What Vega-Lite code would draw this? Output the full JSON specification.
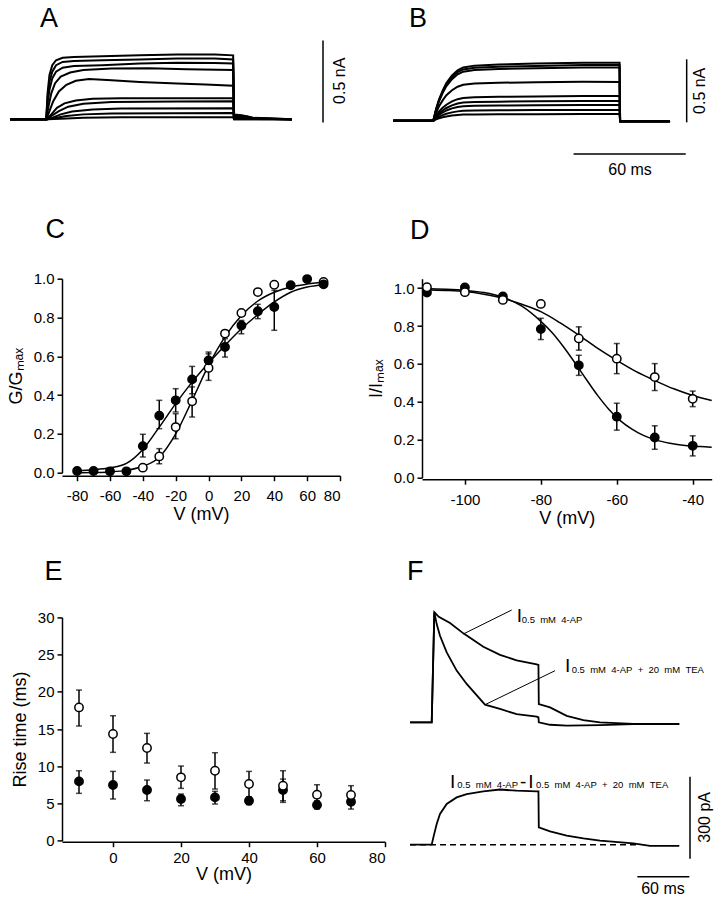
{
  "$schema": "https://vega.github.io/schema/vega-lite/v6.json",
  "background": "white",
  "padding": {"left": 5, "top": 4, "right": 0, "bottom": 0},
  "columns": 2,
  "align": "each",
  "bounds": "flush",
  "spacing": {"row": 139.7, "column": 37},
  "config": {
    "view": {"stroke": null},
    "font": "Liberation Sans",
    "axis": {"domainColor": "black", "domainWidth": 1.5, "tickColor": "black", "tickWidth": 1.5, "tickSize": 5, "labelColor": "black", "labelFont": "Liberation Sans", "labelFontSize": 15, "titleFont": "Liberation Sans", "titleFontSize": 18, "titleFontWeight": "normal", "titleColor": "black", "grid": false}
  },
  "datasets": {
    "aTr": [
      {"k":"a1","t":1,"I":0},{"k":"a1","t":20.3,"I":0},{"k":"a1","t":21,"I":0.16},{"k":"a1","t":22,"I":0.27},{"k":"a1","t":23.5,"I":0.33},{"k":"a1","t":25.5,"I":0.36},{"k":"a1","t":29,"I":0.375},{"k":"a1","t":35,"I":0.38},{"k":"a1","t":50,"I":0.385},{"k":"a1","t":70,"I":0.39},{"k":"a1","t":90,"I":0.395},{"k":"a1","t":110,"I":0.395},{"k":"a1","t":119.7,"I":0.39},{"k":"a1","t":120.2,"I":0.03},{"k":"a1","t":124,"I":0.025},{"k":"a1","t":128,"I":0.015},{"k":"a1","t":132,"I":0.003},{"k":"a1","t":151,"I":0},
      {"k":"a2","t":1,"I":0},{"k":"a2","t":20.3,"I":0},{"k":"a2","t":21,"I":0.13},{"k":"a2","t":22,"I":0.23},{"k":"a2","t":23.5,"I":0.29},{"k":"a2","t":25.5,"I":0.33},{"k":"a2","t":29,"I":0.35},{"k":"a2","t":35,"I":0.355},{"k":"a2","t":50,"I":0.36},{"k":"a2","t":70,"I":0.365},{"k":"a2","t":90,"I":0.37},{"k":"a2","t":110,"I":0.37},{"k":"a2","t":119.7,"I":0.365},{"k":"a2","t":120.2,"I":0.025},{"k":"a2","t":126,"I":0.02},{"k":"a2","t":132,"I":0.003},{"k":"a2","t":151,"I":0},
      {"k":"a3","t":1,"I":0},{"k":"a3","t":20.3,"I":0},{"k":"a3","t":21,"I":0.1},{"k":"a3","t":22,"I":0.18},{"k":"a3","t":23.5,"I":0.25},{"k":"a3","t":25.5,"I":0.29},{"k":"a3","t":29,"I":0.315},{"k":"a3","t":35,"I":0.325},{"k":"a3","t":50,"I":0.33},{"k":"a3","t":70,"I":0.34},{"k":"a3","t":90,"I":0.345},{"k":"a3","t":110,"I":0.343},{"k":"a3","t":119.7,"I":0.34},{"k":"a3","t":120.2,"I":0.02},{"k":"a3","t":128,"I":0.01},{"k":"a3","t":151,"I":0},
      {"k":"a4","t":1,"I":0},{"k":"a4","t":20.3,"I":0},{"k":"a4","t":21.5,"I":0.08},{"k":"a4","t":23,"I":0.16},{"k":"a4","t":25,"I":0.22},{"k":"a4","t":28,"I":0.26},{"k":"a4","t":33,"I":0.285},{"k":"a4","t":40,"I":0.3},{"k":"a4","t":55,"I":0.31},{"k":"a4","t":75,"I":0.312},{"k":"a4","t":95,"I":0.305},{"k":"a4","t":119.7,"I":0.3},{"k":"a4","t":120.2,"I":0.015},{"k":"a4","t":128,"I":0.005},{"k":"a4","t":151,"I":0},
      {"k":"a5","t":1,"I":0},{"k":"a5","t":20.3,"I":0},{"k":"a5","t":22,"I":0.05},{"k":"a5","t":24,"I":0.11},{"k":"a5","t":27,"I":0.17},{"k":"a5","t":31,"I":0.21},{"k":"a5","t":36,"I":0.235},{"k":"a5","t":43,"I":0.245},{"k":"a5","t":55,"I":0.238},{"k":"a5","t":70,"I":0.228},{"k":"a5","t":90,"I":0.218},{"k":"a5","t":105,"I":0.212},{"k":"a5","t":119.7,"I":0.205},{"k":"a5","t":120.2,"I":0.012},{"k":"a5","t":151,"I":0},
      {"k":"a6","t":1,"I":0},{"k":"a6","t":20.5,"I":0},{"k":"a6","t":23,"I":0.03},{"k":"a6","t":26,"I":0.07},{"k":"a6","t":30,"I":0.097},{"k":"a6","t":36,"I":0.115},{"k":"a6","t":45,"I":0.125},{"k":"a6","t":60,"I":0.128},{"k":"a6","t":90,"I":0.128},{"k":"a6","t":119.7,"I":0.128},{"k":"a6","t":120.2,"I":0.005},{"k":"a6","t":151,"I":0},
      {"k":"a7","t":1,"I":0},{"k":"a7","t":20.5,"I":0},{"k":"a7","t":23,"I":0.02},{"k":"a7","t":27,"I":0.05},{"k":"a7","t":32,"I":0.077},{"k":"a7","t":40,"I":0.095},{"k":"a7","t":55,"I":0.105},{"k":"a7","t":90,"I":0.108},{"k":"a7","t":119.7,"I":0.11},{"k":"a7","t":120.2,"I":0.004},{"k":"a7","t":151,"I":0},
      {"k":"a8","t":1,"I":0},{"k":"a8","t":21,"I":0},{"k":"a8","t":24,"I":0.012},{"k":"a8","t":28,"I":0.03},{"k":"a8","t":34,"I":0.048},{"k":"a8","t":45,"I":0.06},{"k":"a8","t":60,"I":0.066},{"k":"a8","t":119.7,"I":0.068},{"k":"a8","t":120.2,"I":0.002},{"k":"a8","t":151,"I":0},
      {"k":"a9","t":1,"I":0},{"k":"a9","t":21,"I":0},{"k":"a9","t":25,"I":0.008},{"k":"a9","t":31,"I":0.02},{"k":"a9","t":40,"I":0.03},{"k":"a9","t":55,"I":0.036},{"k":"a9","t":119.7,"I":0.038},{"k":"a9","t":120.2,"I":0},{"k":"a9","t":151,"I":0},
      {"k":"a10","t":1,"I":0},{"k":"a10","t":21,"I":0},{"k":"a10","t":28,"I":0.004},{"k":"a10","t":40,"I":0.009},{"k":"a10","t":60,"I":0.012},{"k":"a10","t":119.7,"I":0.013},{"k":"a10","t":120.2,"I":0},{"k":"a10","t":151,"I":0}
    ],
    "bTr": [
      {"k":"b1","t":-1.4,"I":0},{"k":"b1","t":20,"I":0},{"k":"b1","t":21.5,"I":0.092},{"k":"b1","t":23,"I":0.166},{"k":"b1","t":25,"I":0.239},{"k":"b1","t":27,"I":0.299},{"k":"b1","t":30,"I":0.359},{"k":"b1","t":33,"I":0.4},{"k":"b1","t":36,"I":0.423},{"k":"b1","t":42,"I":0.437},{"k":"b1","t":55,"I":0.446},{"k":"b1","t":75,"I":0.453},{"k":"b1","t":100,"I":0.46},{"k":"b1","t":119.6,"I":0.46},{"k":"b1","t":119.9,"I":-0.005},{"k":"b1","t":146.6,"I":-0.005},
      {"k":"b2","t":-1.4,"I":0},{"k":"b2","t":20,"I":0},{"k":"b2","t":21.5,"I":0.088},{"k":"b2","t":23,"I":0.159},{"k":"b2","t":25,"I":0.23},{"k":"b2","t":27,"I":0.287},{"k":"b2","t":30,"I":0.345},{"k":"b2","t":33,"I":0.385},{"k":"b2","t":36,"I":0.407},{"k":"b2","t":42,"I":0.42},{"k":"b2","t":55,"I":0.429},{"k":"b2","t":75,"I":0.435},{"k":"b2","t":100,"I":0.442},{"k":"b2","t":119.6,"I":0.442},{"k":"b2","t":119.9,"I":-0.005},{"k":"b2","t":146.6,"I":-0.005},
      {"k":"b3","t":-1.4,"I":0},{"k":"b3","t":20,"I":0},{"k":"b3","t":21.5,"I":0.085},{"k":"b3","t":23,"I":0.152},{"k":"b3","t":25,"I":0.22},{"k":"b3","t":27,"I":0.275},{"k":"b3","t":30,"I":0.33},{"k":"b3","t":33,"I":0.368},{"k":"b3","t":36,"I":0.389},{"k":"b3","t":42,"I":0.402},{"k":"b3","t":55,"I":0.41},{"k":"b3","t":75,"I":0.417},{"k":"b3","t":100,"I":0.423},{"k":"b3","t":119.6,"I":0.423},{"k":"b3","t":119.9,"I":-0.005},{"k":"b3","t":146.6,"I":-0.005},
      {"k":"b4","t":-1.4,"I":0},{"k":"b4","t":20,"I":0},{"k":"b4","t":21.5,"I":0.062},{"k":"b4","t":23,"I":0.112},{"k":"b4","t":25,"I":0.161},{"k":"b4","t":27,"I":0.202},{"k":"b4","t":30,"I":0.242},{"k":"b4","t":33,"I":0.27},{"k":"b4","t":36,"I":0.285},{"k":"b4","t":42,"I":0.295},{"k":"b4","t":55,"I":0.301},{"k":"b4","t":75,"I":0.305},{"k":"b4","t":100,"I":0.31},{"k":"b4","t":119.6,"I":0.308},{"k":"b4","t":119.9,"I":-0.005},{"k":"b4","t":146.6,"I":-0.005},
      {"k":"b5","t":-1.4,"I":0},{"k":"b5","t":20,"I":0},{"k":"b5","t":21.5,"I":0.039},{"k":"b5","t":23,"I":0.071},{"k":"b5","t":25,"I":0.102},{"k":"b5","t":27,"I":0.127},{"k":"b5","t":30,"I":0.153},{"k":"b5","t":33,"I":0.171},{"k":"b5","t":36,"I":0.18},{"k":"b5","t":42,"I":0.186},{"k":"b5","t":55,"I":0.19},{"k":"b5","t":75,"I":0.193},{"k":"b5","t":100,"I":0.196},{"k":"b5","t":119.6,"I":0.196},{"k":"b5","t":119.9,"I":-0.005},{"k":"b5","t":146.6,"I":-0.005},
      {"k":"b6","t":-1.4,"I":0},{"k":"b6","t":20,"I":0},{"k":"b6","t":21.5,"I":0.031},{"k":"b6","t":23,"I":0.056},{"k":"b6","t":25,"I":0.081},{"k":"b6","t":27,"I":0.101},{"k":"b6","t":30,"I":0.122},{"k":"b6","t":33,"I":0.136},{"k":"b6","t":36,"I":0.144},{"k":"b6","t":42,"I":0.148},{"k":"b6","t":55,"I":0.151},{"k":"b6","t":75,"I":0.154},{"k":"b6","t":100,"I":0.156},{"k":"b6","t":119.6,"I":0.156},{"k":"b6","t":119.9,"I":-0.005},{"k":"b6","t":146.6,"I":-0.005},
      {"k":"b7","t":-1.4,"I":0},{"k":"b7","t":20,"I":0},{"k":"b7","t":21.5,"I":0.025},{"k":"b7","t":23,"I":0.045},{"k":"b7","t":25,"I":0.065},{"k":"b7","t":27,"I":0.081},{"k":"b7","t":30,"I":0.098},{"k":"b7","t":33,"I":0.109},{"k":"b7","t":36,"I":0.115},{"k":"b7","t":42,"I":0.119},{"k":"b7","t":55,"I":0.121},{"k":"b7","t":75,"I":0.123},{"k":"b7","t":100,"I":0.125},{"k":"b7","t":119.6,"I":0.125},{"k":"b7","t":119.9,"I":-0.005},{"k":"b7","t":146.6,"I":-0.005},
      {"k":"b8","t":-1.4,"I":0},{"k":"b8","t":20,"I":0},{"k":"b8","t":21.5,"I":0.017},{"k":"b8","t":23,"I":0.031},{"k":"b8","t":25,"I":0.044},{"k":"b8","t":27,"I":0.055},{"k":"b8","t":30,"I":0.066},{"k":"b8","t":33,"I":0.074},{"k":"b8","t":36,"I":0.078},{"k":"b8","t":42,"I":0.081},{"k":"b8","t":55,"I":0.082},{"k":"b8","t":75,"I":0.084},{"k":"b8","t":100,"I":0.085},{"k":"b8","t":119.6,"I":0.085},{"k":"b8","t":119.9,"I":-0.005},{"k":"b8","t":146.6,"I":-0.005},
      {"k":"b9","t":-1.4,"I":0},{"k":"b9","t":20,"I":0},{"k":"b9","t":21.5,"I":0.011},{"k":"b9","t":23,"I":0.019},{"k":"b9","t":25,"I":0.028},{"k":"b9","t":27,"I":0.034},{"k":"b9","t":30,"I":0.041},{"k":"b9","t":33,"I":0.046},{"k":"b9","t":36,"I":0.049},{"k":"b9","t":42,"I":0.05},{"k":"b9","t":55,"I":0.051},{"k":"b9","t":75,"I":0.052},{"k":"b9","t":100,"I":0.053},{"k":"b9","t":119.6,"I":0.053},{"k":"b9","t":119.9,"I":-0.005},{"k":"b9","t":146.6,"I":-0.005}
    ],
    "cCurve": [
      {"s":"f","V":-80,"G":0.01},{"s":"f","V":-70,"G":0.015},{"s":"f","V":-60,"G":0.025},{"s":"f","V":-50,"G":0.048},{"s":"f","V":-40,"G":0.12},{"s":"f","V":-30,"G":0.235},{"s":"f","V":-20,"G":0.356},{"s":"f","V":-10,"G":0.467},{"s":"f","V":0,"G":0.565},{"s":"f","V":10,"G":0.656},{"s":"f","V":20,"G":0.742},{"s":"f","V":30,"G":0.815},{"s":"f","V":40,"G":0.88},{"s":"f","V":50,"G":0.93},{"s":"f","V":60,"G":0.957},{"s":"f","V":72,"G":0.972},
      {"s":"o","V":-80,"G":0.0},{"s":"o","V":-70,"G":0.001},{"s":"o","V":-60,"G":0.004},{"s":"o","V":-50,"G":0.012},{"s":"o","V":-40,"G":0.033},{"s":"o","V":-30,"G":0.08},{"s":"o","V":-20,"G":0.2},{"s":"o","V":-10,"G":0.373},{"s":"o","V":0,"G":0.553},{"s":"o","V":10,"G":0.7},{"s":"o","V":20,"G":0.81},{"s":"o","V":30,"G":0.885},{"s":"o","V":40,"G":0.93},{"s":"o","V":50,"G":0.957},{"s":"o","V":60,"G":0.972},{"s":"o","V":72,"G":0.984}
    ],
    "cPts": [
      {"s":"o","V":-40,"G":0.026},{"s":"o","V":-30,"G":0.084},{"s":"o","V":-20,"G":0.235},{"s":"o","V":-10,"G":0.368},{"s":"o","V":0,"G":0.54},{"s":"o","V":10,"G":0.717},{"s":"o","V":20,"G":0.823},{"s":"o","V":30,"G":0.931},{"s":"o","V":40,"G":0.969},{"s":"o","V":70,"G":0.983},
      {"s":"f","V":-80,"G":0.009},{"s":"f","V":-70,"G":0.009},{"s":"f","V":-60,"G":0.007},{"s":"f","V":-50,"G":0.007},{"s":"f","V":-40,"G":0.137},{"s":"f","V":-30,"G":0.294},{"s":"f","V":-20,"G":0.373},{"s":"f","V":-10,"G":0.481},{"s":"f","V":0,"G":0.579},{"s":"f","V":10,"G":0.648},{"s":"f","V":20,"G":0.759},{"s":"f","V":30,"G":0.832},{"s":"f","V":40,"G":0.854},{"s":"f","V":50,"G":0.966},{"s":"f","V":60,"G":0.998},{"s":"f","V":70,"G":0.971}
    ],
    "cErr": [
      {"V":-40,"lo":0.081,"hi":0.198},{"V":-30,"lo":0.227,"hi":0.373},{"V":-20,"lo":0.313,"hi":0.433},{"V":-10,"lo":0.407,"hi":0.548},{"V":0,"lo":0.536,"hi":0.622},{"V":10,"lo":0.596,"hi":0.691},{"V":20,"lo":0.716,"hi":0.785},{"V":30,"lo":0.794,"hi":0.868},{"V":40,"lo":0.734,"hi":0.94},
      {"V":-30,"lo":0.046,"hi":0.124},{"V":-20,"lo":0.175,"hi":0.304},{"V":-10,"lo":0.287,"hi":0.442},{"V":0,"lo":0.476,"hi":0.613}
    ],
    "dCurve": [
      {"s":"f","V":-111,"G":0.998},{"s":"f","V":-105,"G":0.994},{"s":"f","V":-100,"G":0.988},{"s":"f","V":-95,"G":0.977},{"s":"f","V":-90,"G":0.952},{"s":"f","V":-85,"G":0.905},{"s":"f","V":-80,"G":0.825},{"s":"f","V":-77,"G":0.765},{"s":"f","V":-74,"G":0.69},{"s":"f","V":-71,"G":0.606},{"s":"f","V":-68,"G":0.518},{"s":"f","V":-65,"G":0.433},{"s":"f","V":-62,"G":0.359},{"s":"f","V":-59,"G":0.3},{"s":"f","V":-56,"G":0.256},{"s":"f","V":-53,"G":0.223},{"s":"f","V":-50,"G":0.201},{"s":"f","V":-46,"G":0.182},{"s":"f","V":-42,"G":0.17},{"s":"f","V":-38,"G":0.164},{"s":"f","V":-35,"G":0.161},
      {"s":"o","V":-111,"G":0.992},{"s":"o","V":-105,"G":0.988},{"s":"o","V":-100,"G":0.982},{"s":"o","V":-95,"G":0.968},{"s":"o","V":-90,"G":0.947},{"s":"o","V":-85,"G":0.915},{"s":"o","V":-80,"G":0.876},{"s":"o","V":-75,"G":0.818},{"s":"o","V":-70,"G":0.752},{"s":"o","V":-65,"G":0.682},{"s":"o","V":-60,"G":0.619},{"s":"o","V":-55,"G":0.561},{"s":"o","V":-50,"G":0.513},{"s":"o","V":-45,"G":0.469},{"s":"o","V":-40,"G":0.434},{"s":"o","V":-35,"G":0.407}
    ],
    "dPts": [
      {"s":"f","V":-110,"G":0.977},{"s":"f","V":-100,"G":1.004},{"s":"f","V":-90,"G":0.956},{"s":"f","V":-80,"G":0.784},{"s":"f","V":-70,"G":0.593},{"s":"f","V":-60,"G":0.322},{"s":"f","V":-50,"G":0.212},{"s":"f","V":-40,"G":0.168},
      {"s":"o","V":-110,"G":1.005},{"s":"o","V":-100,"G":0.979},{"s":"o","V":-90,"G":0.938},{"s":"o","V":-80,"G":0.917},{"s":"o","V":-70,"G":0.735},{"s":"o","V":-60,"G":0.628},{"s":"o","V":-50,"G":0.531},{"s":"o","V":-40,"G":0.416}
    ],
    "dErr": [
      {"V":-80,"lo":0.729,"hi":0.841},{"V":-70,"lo":0.54,"hi":0.646},{"V":-60,"lo":0.251,"hi":0.393},{"V":-50,"lo":0.15,"hi":0.274},{"V":-40,"lo":0.115,"hi":0.221},
      {"V":-70,"lo":0.673,"hi":0.796},{"V":-60,"lo":0.549,"hi":0.708},{"V":-50,"lo":0.46,"hi":0.602},{"V":-40,"lo":0.375,"hi":0.457}
    ],
    "ePts": [
      {"s":"f","V":-10,"R":7.97},{"s":"f","V":0,"R":7.48},{"s":"f","V":10,"R":6.81},{"s":"f","V":20,"R":5.6},{"s":"f","V":30,"R":5.82},{"s":"f","V":40,"R":5.37},{"s":"f","V":50,"R":6.81},{"s":"f","V":60,"R":4.79},{"s":"f","V":70,"R":5.24},
      {"s":"o","V":-10,"R":17.91},{"s":"o","V":0,"R":14.33},{"s":"o","V":10,"R":12.45},{"s":"o","V":20,"R":8.51},{"s":"o","V":30,"R":9.4},{"s":"o","V":40,"R":7.61},{"s":"o","V":50,"R":7.39},{"s":"o","V":60,"R":6.18},{"s":"o","V":70,"R":6.14}
    ],
    "eErr": [
      {"V":-10,"lo":6.36,"hi":9.4},{"V":0,"lo":5.6,"hi":9.31},{"V":10,"lo":5.37,"hi":8.15},{"V":20,"lo":4.7,"hi":6.27},{"V":30,"lo":4.93,"hi":6.63},{"V":40,"lo":4.84,"hi":5.73},{"V":50,"lo":5.15,"hi":8.28},{"V":60,"lo":4.25,"hi":5.37},{"V":70,"lo":4.25,"hi":5.82},
      {"V":-10,"lo":15.41,"hi":20.24},{"V":0,"lo":11.87,"hi":16.79},{"V":10,"lo":10.43,"hi":14.42},{"V":20,"lo":7.03,"hi":10.03},{"V":30,"lo":6.94,"hi":11.82},{"V":40,"lo":5.91,"hi":9.31},{"V":50,"lo":5.37,"hi":9.4},{"V":60,"lo":4.93,"hi":7.52},{"V":70,"lo":5.02,"hi":7.39}
    ],
    "fTr": [
      {"k":"ap","t":0,"I":450},{"k":"ap","t":24.9,"I":450},{"k":"ap","t":27.9,"I":855},{"k":"ap","t":33,"I":838},{"k":"ap","t":45.9,"I":815},{"k":"ap","t":61.2,"I":777},{"k":"ap","t":84.1,"I":728},{"k":"ap","t":103.2,"I":698},{"k":"ap","t":122.3,"I":678},{"k":"ap","t":145.3,"I":663},{"k":"ap","t":147.3,"I":661},{"k":"ap","t":147.7,"I":517},{"k":"ap","t":160.6,"I":505},{"k":"ap","t":179.7,"I":474},{"k":"ap","t":198.8,"I":458},{"k":"ap","t":217.9,"I":450},{"k":"ap","t":256.1,"I":444},{"k":"ap","t":308.8,"I":444},
      {"k":"tea","t":0,"I":450},{"k":"tea","t":24.9,"I":450},{"k":"tea","t":27.9,"I":855},{"k":"tea","t":30.6,"I":811},{"k":"tea","t":34.4,"I":768},{"k":"tea","t":42.1,"I":707},{"k":"tea","t":53.5,"I":640},{"k":"tea","t":65,"I":591},{"k":"tea","t":86,"I":515},{"k":"tea","t":103.2,"I":499},{"k":"tea","t":122.3,"I":480},{"k":"tea","t":145.3,"I":471},{"k":"tea","t":147.3,"I":468},{"k":"tea","t":147.7,"I":450},{"k":"tea","t":160.6,"I":441},{"k":"tea","t":179.7,"I":437.5},{"k":"tea","t":217.9,"I":440},{"k":"tea","t":256,"I":443.6},{"k":"tea","t":308.8,"I":443.6},
      {"k":"diff","t":0,"I":0},{"k":"diff","t":24.9,"I":0},{"k":"diff","t":26.8,"I":27},{"k":"diff","t":30.6,"I":76},{"k":"diff","t":34.4,"I":113},{"k":"diff","t":42.1,"I":150},{"k":"diff","t":53.5,"I":174},{"k":"diff","t":65,"I":186},{"k":"diff","t":84.1,"I":196},{"k":"diff","t":103.2,"I":203},{"k":"diff","t":122.3,"I":198.5},{"k":"diff","t":145.3,"I":196},{"k":"diff","t":147.3,"I":196},{"k":"diff","t":147.7,"I":64},{"k":"diff","t":160.6,"I":49},{"k":"diff","t":179.7,"I":33},{"k":"diff","t":198.8,"I":23},{"k":"diff","t":217.9,"I":15},{"k":"diff","t":256.1,"I":5},{"k":"diff","t":275.2,"I":-4},{"k":"diff","t":308.8,"I":-4}
    ]
  },
  "concat": [
    {
      "width": 278, "height": 110.3,
      "encoding": {
        "x": {"field": "t", "type": "quantitative", "scale": {"domain": [28.67, 176.54], "nice": false, "zero": false}, "axis": null},
        "y": {"field": "I", "type": "quantitative", "scale": {"domain": [-0.1159, 0.5567], "nice": false, "zero": false}, "axis": null}
      },
      "layer": [
        {"data": {"name": "aTr"}, "mark": {"type": "line", "color": "black", "strokeWidth": 2}, "encoding": {"detail": {"field": "k"}}},
        {"data": {"values": [{"t": 167.5, "I": -0.02, "t2": 167.5, "I2": 0.48}]}, "mark": {"type": "rule", "color": "black", "strokeWidth": 1.5}, "encoding": {"x2": {"field": "t2"}, "y2": {"field": "I2"}}},
        {"data": {"values": [{"t": 176.8, "I": 0.235, "label": "0.5 nA"}]}, "mark": {"type": "text", "angle": 270, "fontSize": 16, "align": "center", "baseline": "middle", "color": "black"}, "encoding": {"text": {"field": "label"}}},
        {"data": {"values": [{"t": 16.97, "I": 0.5646, "label": "A"}]}, "mark": {"type": "text", "fontSize": 27, "align": "left", "baseline": "alphabetic", "color": "black"}, "encoding": {"text": {"field": "label"}}}
      ]
    },
    {
      "width": 290, "height": 110.3,
      "encoding": {
        "x": {"field": "t", "type": "quantitative", "scale": {"domain": [13.96, 169.04], "nice": false, "zero": false}, "axis": null},
        "y": {"field": "I", "type": "quantitative", "scale": {"domain": [-0.1397, 0.7357], "nice": false, "zero": false}, "axis": null}
      },
      "layer": [
        {"data": {"name": "bTr"}, "mark": {"type": "line", "color": "black", "strokeWidth": 2}, "encoding": {"detail": {"field": "k"}}},
        {"data": {"values": [{"t": 155.5, "I": -0.013, "t2": 155.5, "I2": 0.487}, {"t": 95, "I": -0.264, "t2": 155, "I2": -0.264}]}, "mark": {"type": "rule", "color": "black", "strokeWidth": 1.5}, "encoding": {"x2": {"field": "t2"}, "y2": {"field": "I2"}}},
        {"data": {"values": [{"t": 162.6, "I": 0.237, "label": "0.5 nA"}]}, "mark": {"type": "text", "angle": 270, "fontSize": 16, "align": "center", "baseline": "middle", "color": "black"}, "encoding": {"text": {"field": "label"}}},
        {"data": {"values": [{"t": 125.2, "I": -0.431, "label": "60 ms"}]}, "mark": {"type": "text", "fontSize": 16, "align": "center", "baseline": "alphabetic", "color": "black"}, "encoding": {"text": {"field": "label"}}},
        {"data": {"values": [{"t": 7.0, "I": 0.746, "label": "B"}]}, "mark": {"type": "text", "fontSize": 27, "align": "left", "baseline": "alphabetic", "color": "black"}, "encoding": {"text": {"field": "label"}}}
      ]
    },
    {
      "width": 278, "height": 194,
      "encoding": {
        "x": {"field": "V", "type": "quantitative", "scale": {"domain": [-89.2, 80], "nice": false, "zero": false}, "axis": {"values": [-80, -60, -40, -20, 0, 20, 40, 60, 80], "labelExpr": "'' + datum.value", "title": "V (mV)", "offset": 3, "labelPadding": 8, "titlePadding": 2}},
        "y": {"field": "G", "type": "quantitative", "scale": {"domain": [0, 1], "nice": false, "zero": false}, "axis": {"values": [0, 0.2, 0.4, 0.6, 0.8, 1], "labelExpr": "format(datum.value, '.1f')", "title": "G/Gₘₐₓ", "labelPadding": 3, "titlePadding": 8}}
      },
      "layer": [
        {"data": {"name": "cCurve"}, "mark": {"type": "line", "color": "black", "strokeWidth": 1.5, "interpolate": "monotone"}, "encoding": {"detail": {"field": "s"}}},
        {"data": {"name": "cErr"}, "mark": {"type": "rule", "color": "black", "strokeWidth": 1.5}, "encoding": {"y": {"field": "lo", "type": "quantitative", "scale": {"domain": [0, 1], "nice": false, "zero": false}, "axis": {"values": [0, 0.2, 0.4, 0.6, 0.8, 1], "labelExpr": "format(datum.value, '.1f')", "title": "G/Gₘₐₓ", "labelPadding": 3, "titlePadding": 8}}, "y2": {"field": "hi"}}},
        {"data": {"name": "cErr"}, "mark": {"type": "tick", "orient": "horizontal", "size": 6, "thickness": 1.5, "color": "black"}, "encoding": {"y": {"field": "lo", "type": "quantitative", "scale": {"domain": [0, 1], "nice": false, "zero": false}, "axis": {"values": [0, 0.2, 0.4, 0.6, 0.8, 1], "labelExpr": "format(datum.value, '.1f')", "title": "G/Gₘₐₓ", "labelPadding": 3, "titlePadding": 8}}}},
        {"data": {"name": "cErr"}, "mark": {"type": "tick", "orient": "horizontal", "size": 6, "thickness": 1.5, "color": "black"}, "encoding": {"y": {"field": "hi", "type": "quantitative", "scale": {"domain": [0, 1], "nice": false, "zero": false}, "axis": {"values": [0, 0.2, 0.4, 0.6, 0.8, 1], "labelExpr": "format(datum.value, '.1f')", "title": "G/Gₘₐₓ", "labelPadding": 3, "titlePadding": 8}}}},
        {"data": {"name": "cPts"}, "mark": {"type": "point", "shape": "circle", "size": 70, "filled": true, "stroke": "black", "strokeWidth": 1.5, "opacity": 1}, "encoding": {"fill": {"field": "s", "type": "nominal", "scale": {"domain": ["f", "o"], "range": ["black", "white"]}, "legend": null}}},
        {"data": {"values": [{"V": -99.3, "G": 1.211, "label": "C"}]}, "mark": {"type": "text", "fontSize": 27, "align": "left", "baseline": "alphabetic", "color": "black"}, "encoding": {"text": {"field": "label"}}}
      ]
    },
    {
      "width": 289.7, "height": 199,
      "encoding": {
        "x": {"field": "V", "type": "quantitative", "scale": {"domain": [-111.3, -35], "nice": false, "zero": false}, "axis": {"values": [-100, -80, -60, -40], "labelExpr": "'' + datum.value", "title": "V (mV)", "offset": 1.5, "labelPadding": 8, "titlePadding": 2}},
        "y": {"field": "G", "type": "quantitative", "scale": {"domain": [0, 1.05], "nice": false, "zero": false}, "axis": {"values": [0, 0.2, 0.4, 0.6, 0.8, 1], "labelExpr": "format(datum.value, '.1f')", "title": "I/Iₘₐₓ", "labelPadding": 3, "titlePadding": 8}}
      },
      "layer": [
        {"data": {"name": "dCurve"}, "mark": {"type": "line", "color": "black", "strokeWidth": 1.5, "interpolate": "monotone"}, "encoding": {"detail": {"field": "s"}}},
        {"data": {"name": "dErr"}, "mark": {"type": "rule", "color": "black", "strokeWidth": 1.5}, "encoding": {"y": {"field": "lo", "type": "quantitative", "scale": {"domain": [0, 1.05], "nice": false, "zero": false}, "axis": {"values": [0, 0.2, 0.4, 0.6, 0.8, 1], "labelExpr": "format(datum.value, '.1f')", "title": "I/Iₘₐₓ", "labelPadding": 3, "titlePadding": 8}}, "y2": {"field": "hi"}}},
        {"data": {"name": "dErr"}, "mark": {"type": "tick", "orient": "horizontal", "size": 6, "thickness": 1.5, "color": "black"}, "encoding": {"y": {"field": "lo", "type": "quantitative", "scale": {"domain": [0, 1.05], "nice": false, "zero": false}, "axis": {"values": [0, 0.2, 0.4, 0.6, 0.8, 1], "labelExpr": "format(datum.value, '.1f')", "title": "I/Iₘₐₓ", "labelPadding": 3, "titlePadding": 8}}}},
        {"data": {"name": "dErr"}, "mark": {"type": "tick", "orient": "horizontal", "size": 6, "thickness": 1.5, "color": "black"}, "encoding": {"y": {"field": "hi", "type": "quantitative", "scale": {"domain": [0, 1.05], "nice": false, "zero": false}, "axis": {"values": [0, 0.2, 0.4, 0.6, 0.8, 1], "labelExpr": "format(datum.value, '.1f')", "title": "I/Iₘₐₓ", "labelPadding": 3, "titlePadding": 8}}}},
        {"data": {"name": "dPts"}, "mark": {"type": "point", "shape": "circle", "size": 70, "filled": true, "stroke": "black", "strokeWidth": 1.5, "opacity": 1}, "encoding": {"fill": {"field": "s", "type": "nominal", "scale": {"domain": ["f", "o"], "range": ["black", "white"]}, "legend": null}}},
        {"data": {"values": [{"V": -114.46, "G": 1.261, "label": "D"}]}, "mark": {"type": "text", "fontSize": 27, "align": "left", "baseline": "alphabetic", "color": "black"}, "encoding": {"text": {"field": "label"}}}
      ]
    },
    {
      "width": 323, "height": 223.3,
      "encoding": {
        "x": {"field": "V", "type": "quantitative", "scale": {"domain": [-15, 80], "nice": false, "zero": false}, "axis": {"values": [0, 20, 40, 60, 80], "labelExpr": "'' + datum.value", "title": "V (mV)", "offset": 1, "labelPadding": 4, "titlePadding": 0}},
        "y": {"field": "R", "type": "quantitative", "scale": {"domain": [0, 30], "nice": false, "zero": false}, "axis": {"values": [0, 5, 10, 15, 20, 25, 30], "labelExpr": "'' + datum.value", "title": "Rise time (ms)", "labelPadding": 3, "titlePadding": 8}}
      },
      "layer": [
        {"data": {"name": "eErr"}, "mark": {"type": "rule", "color": "black", "strokeWidth": 1.5}, "encoding": {"y": {"field": "lo", "type": "quantitative", "scale": {"domain": [0, 30], "nice": false, "zero": false}, "axis": {"values": [0, 5, 10, 15, 20, 25, 30], "labelExpr": "'' + datum.value", "title": "Rise time (ms)", "labelPadding": 3, "titlePadding": 8}}, "y2": {"field": "hi"}}},
        {"data": {"name": "eErr"}, "mark": {"type": "tick", "orient": "horizontal", "size": 6, "thickness": 1.5, "color": "black"}, "encoding": {"y": {"field": "lo", "type": "quantitative", "scale": {"domain": [0, 30], "nice": false, "zero": false}, "axis": {"values": [0, 5, 10, 15, 20, 25, 30], "labelExpr": "'' + datum.value", "title": "Rise time (ms)", "labelPadding": 3, "titlePadding": 8}}}},
        {"data": {"name": "eErr"}, "mark": {"type": "tick", "orient": "horizontal", "size": 6, "thickness": 1.5, "color": "black"}, "encoding": {"y": {"field": "hi", "type": "quantitative", "scale": {"domain": [0, 30], "nice": false, "zero": false}, "axis": {"values": [0, 5, 10, 15, 20, 25, 30], "labelExpr": "'' + datum.value", "title": "Rise time (ms)", "labelPadding": 3, "titlePadding": 8}}}},
        {"data": {"name": "ePts"}, "mark": {"type": "point", "shape": "circle", "size": 70, "filled": true, "stroke": "black", "strokeWidth": 1.5, "opacity": 1}, "encoding": {"fill": {"field": "s", "type": "nominal", "scale": {"domain": ["f", "o"], "range": ["black", "white"]}, "legend": null}}},
        {"data": {"values": [{"V": -20.15, "R": 35.06, "label": "E"}]}, "mark": {"type": "text", "fontSize": 27, "align": "left", "baseline": "alphabetic", "color": "black"}, "encoding": {"text": {"field": "label"}}}
      ]
    },
    {
      "width": 298, "height": 273.3,
      "encoding": {
        "x": {"field": "t", "type": "quantitative", "scale": {"domain": [13.76, 355.5], "nice": false, "zero": false}, "axis": null},
        "y": {"field": "I", "type": "quantitative", "scale": {"domain": [-169.1, 835.7], "nice": false, "zero": false}, "axis": null}
      },
      "layer": [
        {"data": {"values": [{"t": 0, "I": 0, "t2": 260, "I2": 0}]}, "mark": {"type": "rule", "color": "black", "strokeWidth": 1.5, "strokeDash": [6, 4]}, "encoding": {"x2": {"field": "t2"}, "y2": {"field": "I2"}}},
        {"data": {"name": "fTr"}, "mark": {"type": "line", "color": "black", "strokeWidth": 1.8}, "encoding": {"detail": {"field": "k"}}},
        {"data": {"values": [{"t": 116.6, "I": 862.8, "t2": 61.1, "I2": 774.6}, {"t": 166.3, "I": 639.7, "t2": 86, "I2": 514.7}]}, "mark": {"type": "rule", "color": "black", "strokeWidth": 1}, "encoding": {"x2": {"field": "t2"}, "y2": {"field": "I2"}}},
        {"data": {"values": [{"t": 321.1, "I": -52, "t2": 321.1, "I2": 250}, {"t": 260.7, "I": -117.6, "t2": 320.3, "I2": -117.6}]}, "mark": {"type": "rule", "color": "black", "strokeWidth": 1.5}, "encoding": {"x2": {"field": "t2"}, "y2": {"field": "I2"}}},
        {"data": {"values": [{"t": 122.4, "I": 817.3, "label": "I"}, {"t": 177.8, "I": 633.5, "label": "I"}, {"t": 45.9, "I": 208.5, "label": "I"}, {"t": 126.1, "I": 208.5, "label": "-"}, {"t": 135.7, "I": 208.5, "label": "I"}]}, "mark": {"type": "text", "fontSize": 19, "align": "left", "baseline": "alphabetic", "color": "black"}, "encoding": {"text": {"field": "label"}}},
        {"data": {"values": [{"t": 128.1, "I": 814, "label": "0.5\u00a0\u00a0mM\u00a0\u00a04-AP"}, {"t": 185.4, "I": 632, "label": "0.5\u00a0\u00a0mM\u00a0\u00a04-AP\u00a0\u00a0+\u00a0\u00a020\u00a0\u00a0mM\u00a0\u00a0TEA"}, {"t": 54.2, "I": 207, "label": "0.5\u00a0\u00a0mM\u00a0\u00a04-AP"}, {"t": 144.5, "I": 207, "label": "0.5\u00a0\u00a0mM\u00a0\u00a04-AP\u00a0\u00a0+\u00a0\u00a020\u00a0\u00a0mM\u00a0\u00a0TEA"}]}, "mark": {"type": "text", "fontSize": 9.5, "align": "left", "baseline": "alphabetic", "color": "black"}, "encoding": {"text": {"field": "label"}}},
        {"data": {"values": [{"t": 338.3, "I": 100.4, "label": "300 pA"}]}, "mark": {"type": "text", "angle": 270, "fontSize": 16, "align": "center", "baseline": "middle", "color": "black"}, "encoding": {"text": {"field": "label"}}},
        {"data": {"values": [{"t": 290.1, "I": -180, "label": "60 ms"}]}, "mark": {"type": "text", "fontSize": 16, "align": "center", "baseline": "alphabetic", "color": "black"}, "encoding": {"text": {"field": "label"}}},
        {"data": {"values": [{"t": -3.4, "I": 972.4, "label": "F"}]}, "mark": {"type": "text", "fontSize": 27, "align": "left", "baseline": "alphabetic", "color": "black"}, "encoding": {"text": {"field": "label"}}}
      ]
    }
  ]
}
